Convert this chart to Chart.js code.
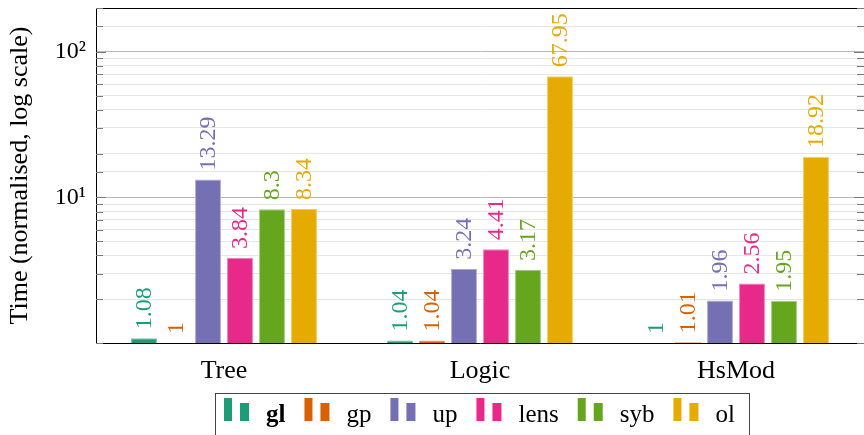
<!DOCTYPE html>
<html>
<head>
<meta charset="utf-8">
<script src="https://cdn.jsdelivr.net/npm/chart.js@4"></script>
<style>
  html, body { margin: 0; padding: 0; background: #fff; }
  #wrap { width: 864px; height: 435px; }
</style>
</head>
<body>
<div id="wrap"><canvas id="bench"></canvas></div>
<script>
const categories = ["Tree", "Logic", "HsMod"];
const seriesNames = ["gl", "gp", "up", "lens", "syb", "ol"];
const gl = [1.08, 1.04, 1];
const gp = [1, 1.04, 1.01];
const up = [13.29, 3.24, 1.96];
const lens = [3.84, 4.41, 2.56];
const syb = [8.3, 3.17, 1.95];
const ol = [8.34, 67.95, 18.92];
const colors = ["#1b9e77", "#d95f02", "#7570b3", "#e7298a", "#66a61e", "#e6ab02"];
const edgeColors = ["#76c4ad", "#e89d66", "#aca9d1", "#f07fb9", "#a3ca78", "#f0cd67"];
const yTickLabels = { 10: "10\u00B9", 100: "10\u00B2" };

const FONT = "'Liberation Serif', 'Times New Roman', serif";
const allSeries = [gl, gp, up, lens, syb, ol];

// rotated value labels above every bar
const valueLabels = {
  id: "valueLabels",
  afterDatasetsDraw(chart) {
    const ctx = chart.ctx;
    ctx.save();
    ctx.font = "24px " + FONT;
    ctx.textAlign = "left";
    ctx.textBaseline = "middle";
    chart.data.datasets.forEach((ds, i) => {
      chart.getDatasetMeta(i).data.forEach((bar, j) => {
        ctx.save();
        ctx.translate(bar.x + 1, bar.y - 9);
        ctx.rotate(-Math.PI / 2);
        ctx.fillStyle = colors[i];
        ctx.fillText(String(ds.data[j]), 0, 0);
        ctx.restore();
      });
    });
    ctx.restore();
  }
};

// frame top line, inward tick marks, and the boxed legend under the axis
const frameAndLegend = {
  id: "frameAndLegend",
  afterDraw(chart) {
    const ctx = chart.ctx;
    const a = chart.chartArea;
    const y = chart.scales.y;
    ctx.save();
    ctx.strokeStyle = "#000";
    ctx.lineWidth = 1;
    ctx.beginPath();
    ctx.moveTo(a.left, a.top + 0.5);
    ctx.lineTo(a.right, a.top + 0.5);
    ctx.stroke();

    ctx.strokeStyle = "#7a7a7a";
    y.ticks.forEach(t => {
      const py = Math.round(y.getPixelForValue(t.value)) + 0.5;
      const major = yTickLabels[t.value] !== undefined;
      const len = major ? 10 : 7;
      ctx.beginPath();
      ctx.moveTo(a.left, py); ctx.lineTo(a.left + len, py);
      ctx.moveTo(a.right, py); ctx.lineTo(a.right - len, py);
      ctx.stroke();
    });

    // legend
    ctx.strokeStyle = "#444";
    ctx.strokeRect(215.5, 393.5, 534, 60);
    ctx.textBaseline = "alphabetic";
    let x = 224;
    seriesNames.forEach((name, i) => {
      ctx.fillStyle = colors[i];
      ctx.fillRect(x, 398, 8, 23);
      ctx.fillRect(x + 16, 403, 9, 18);
      ctx.fillStyle = "#000";
      ctx.font = (name === "gl" ? "bold " : "") + "25px " + FONT;
      ctx.fillText(name, x + 42, 422);
      x += 42 + ctx.measureText(name).width + 19;
    });
    ctx.restore();
  }
};

new Chart("bench", {
  type: "bar",
  data: {
    labels: categories,
    datasets: seriesNames.map((name, i) => ({
      label: name,
      data: allSeries[i],
      backgroundColor: colors[i],
      borderColor: edgeColors[i],
      borderWidth: 1,
      borderSkipped: "bottom",
      categoryPercentage: 0.75,
      barPercentage: 0.81
    }))
  },
  options: {
    responsive: true,
    maintainAspectRatio: false,
    animation: false,
    layout: { padding: { top: 8, right: 0, left: 0, bottom: 0 } },
    plugins: { legend: { display: false }, tooltip: { enabled: false } },
    scales: {
      x: {
        afterFit: s => { s.height = 92; s.paddingLeft = 0; s.paddingRight = 0; },
        grid: { display: false, drawTicks: false },
        border: { color: "#000", width: 1 },
        ticks: { color: "#000", font: { family: FONT, size: 26 }, padding: 13 }
      },
      y: {
        type: "logarithmic",
        min: 1,
        max: 200,
        afterFit: s => { s.width = 96; s.paddingTop = 0; s.paddingBottom = 0; },
        border: { color: "#000", width: 1 },
        grid: {
          drawTicks: false,
          color: ctx => (yTickLabels[ctx.tick.value] ? "#b8b8b8" : "#e6e6e6")
        },
        ticks: {
          autoSkip: false,
          color: "#000",
          padding: 10,
          font: { family: FONT, size: 24 },
          callback: v => yTickLabels[v] || ""
        },
        title: {
          display: true,
          text: "Time (normalised, log scale)",
          color: "#000",
          padding: { top: 5, bottom: 0 },
          font: { family: FONT, size: 26 }
        }
      }
    }
  },
  plugins: [valueLabels, frameAndLegend]
});
</script>
</body>
</html>
